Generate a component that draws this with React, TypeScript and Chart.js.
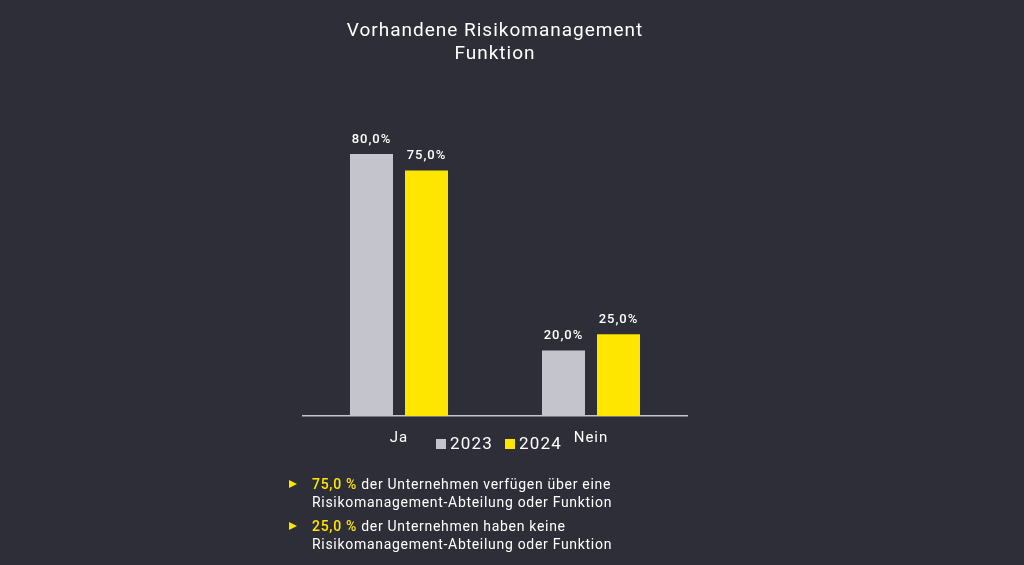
import React, { useEffect, useRef } from "react";
import { Chart, registerables } from "chart.js";

Chart.register(...registerables);

const categories = ["Ja", "Nein"];
const seriesLabels = ["2023", "2024"];
const values2023 = [80, 20];
const values2024 = [75, 25];
const seriesColors = ["#c4c4cd", "#ffe600"];
const titleLines = ["Vorhandene Risikomanagement", "Funktion"];
const bullets = [
  { highlight: "75,0 %", rest: " der Unternehmen verfügen über eine", line2: "Risikomanagement-Abteilung oder Funktion" },
  { highlight: "25,0 %", rest: " der Unternehmen haben keine", line2: "Risikomanagement-Abteilung oder Funktion" },
];

const BG = "#2e2e38";
const FONT = "Roboto, 'Noto Sans', sans-serif";

const fmt = (v: number) => v.toFixed(1).replace(".", ",") + "%";

const spacingPlugin = {
  id: "spacing",
  beforeDraw(chart: any) {
    chart.ctx.letterSpacing = "1px";
  },
};

const valueLabels = {
  id: "valueLabels",
  afterDatasetsDraw(chart: any) {
    const ctx = chart.ctx;
    chart.data.datasets.forEach((ds: any, i: number) => {
      const meta = chart.getDatasetMeta(i);
      meta.data.forEach((bar: any, j: number) => {
        ctx.save();
        ctx.letterSpacing = "1px";
        ctx.font = `500 13px ${FONT}`;
        ctx.fillStyle = "#ffffff";
        ctx.textAlign = "center";
        ctx.textBaseline = "bottom";
        ctx.fillText(fmt(ds.data[j]), bar.x, bar.y - 8);
        ctx.restore();
      });
    });
  },
};

const customLegend = {
  id: "customLegend",
  afterDraw(chart: any) {
    const ctx = chart.ctx;
    const area = chart.chartArea;
    ctx.save();
    ctx.letterSpacing = "1.2px";
    ctx.font = `400 17px ${FONT}`;
    ctx.textBaseline = "middle";
    ctx.textAlign = "left";
    const box = 10;
    const gapBoxText = 4;
    const gapItems = 12;
    const items = chart.data.datasets.map((ds: any) => ({
      label: ds.label,
      color: ds.backgroundColor,
      w: box + gapBoxText + ctx.measureText(ds.label).width,
    }));
    const total = items.reduce((s: number, it: any) => s + it.w, 0) + gapItems * (items.length - 1);
    let x = (area.left + area.right) / 2 + 4 - total / 2;
    const y = area.bottom + 28;
    items.forEach((it: any) => {
      ctx.fillStyle = it.color;
      ctx.fillRect(x, y - box / 2, box, box);
      ctx.fillStyle = "#ffffff";
      ctx.fillText(it.label, x + box + gapBoxText, y + 1);
      x += it.w + gapItems;
    });
    ctx.restore();
  },
};

export default function App() {
  const canvasRef = useRef<HTMLCanvasElement | null>(null);

  useEffect(() => {
    if (!canvasRef.current) return;
    const chart = new Chart(canvasRef.current, {
      type: "bar",
      data: {
        labels: categories,
        datasets: [
          {
            label: seriesLabels[0],
            data: values2023,
            backgroundColor: seriesColors[0],
            categoryPercentage: 0.573,
            barPercentage: 0.782,
          },
          {
            label: seriesLabels[1],
            data: values2024,
            backgroundColor: seriesColors[1],
            categoryPercentage: 0.573,
            barPercentage: 0.782,
          },
        ],
      },
      options: {
        responsive: false,
        animation: false,
        devicePixelRatio: 1,
        layout: { padding: { left: 303, right: 337, top: 0, bottom: 105 } },
        scales: {
          x: {
            grid: { display: true, color: "rgba(0,0,0,0)", drawTicks: false, drawOnChartArea: false },
            border: { display: true, color: "#c4c4cd", width: 1.5 },
            ticks: { color: "#ffffff", font: { family: FONT, size: 15 }, padding: 13 },
          },
          y: { display: false, min: 0, max: 100 },
        },
        plugins: {
          legend: { display: false },
          tooltip: { enabled: false },
          title: {
            display: true,
            text: titleLines,
            color: "#ffffff",
            font: { family: FONT, size: 19, weight: "normal", lineHeight: 1.2 },
            padding: { top: 20, bottom: 23 },
          },
        },
      },
      plugins: [spacingPlugin, valueLabels, customLegend],
    } as any);
    return () => chart.destroy();
  }, []);

  return (
    <div
      style={{
        position: "fixed",
        left: 0,
        top: 0,
        width: 1024,
        height: 565,
        background: BG,
        overflow: "hidden",
        fontFamily: FONT,
      }}
    >
      <canvas ref={canvasRef} width={1024} height={565} style={{ display: "block" }} />
      <div style={{ position: "absolute", left: 288, top: 475, color: "#ffffff", fontSize: 14, lineHeight: "18px", letterSpacing: "0.7px" }}>
        {bullets.map((b, i) => (
          <div key={i} style={{ position: "relative", paddingLeft: 24, marginBottom: 6 }}>
            <span
              style={{
                position: "absolute",
                left: 1,
                top: 5,
                width: 0,
                height: 0,
                borderLeft: "8px solid #ffe600",
                borderTop: "4.5px solid transparent",
                borderBottom: "4.5px solid transparent",
              }}
            />
            <div>
              <span style={{ color: "#ffe600", fontWeight: 500 }}>{b.highlight}</span>
              {b.rest}
            </div>
            <div>{b.line2}</div>
          </div>
        ))}
      </div>
    </div>
  );
}
